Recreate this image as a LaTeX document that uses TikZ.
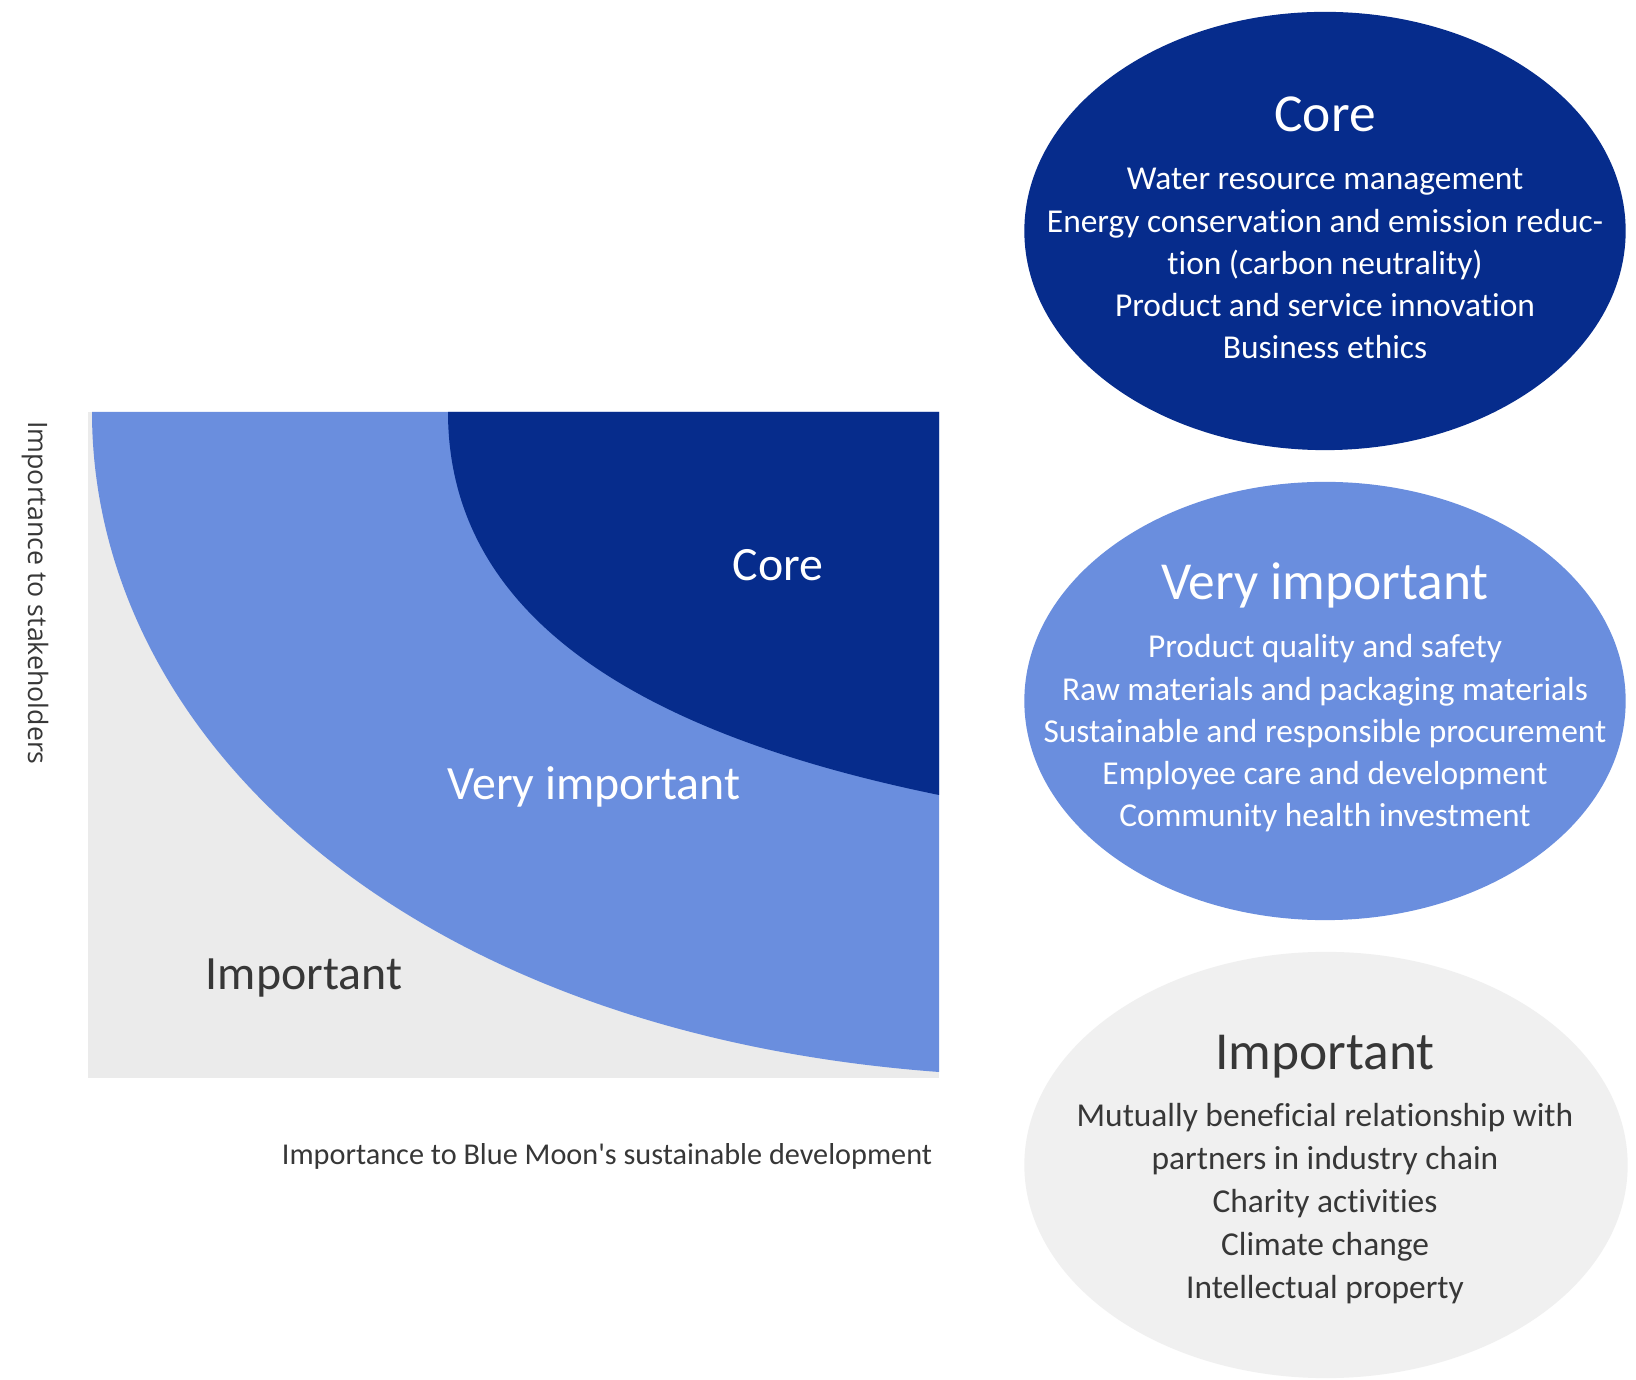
\documentclass[tikz,border=0pt]{standalone}
\usepackage{fontspec}
\setmainfont{Carlito}[Ligatures={TeX,NoCommon}]
\newfontfamily\plaincarlito{Carlito}[Ligatures=NoCommon]
\newfontfamily\vfont{Open Sans}
\usetikzlibrary{shapes.geometric}
\definecolor{coreblue}{RGB}{6,44,140}
\definecolor{midblue}{RGB}{106,142,222}
\definecolor{chartgray}{RGB}{235,235,235}
\definecolor{ovalgray}{RGB}{240,240,240}
\definecolor{txtgray}{RGB}{55,55,55}
\begin{document}
\begin{tikzpicture}[x=0.01cm,y=-0.01cm,
  oval/.style={ellipse, draw=none, inner sep=0pt, minimum width=6.01cm, minimum height=4.38cm},
  ovaltitle/.style={anchor=base, inner sep=0pt, font=\fontsize{15.2pt}{18pt}\selectfont},
  ovalitem/.style={anchor=base, inner sep=0pt, font=\fontsize{9.5pt}{12pt}\selectfont},
  chartlabel/.style={anchor=base, inner sep=0pt, font=\fontsize{13.6pt}{16pt}\selectfont},
  axislabel/.style={inner sep=0pt, text=txtgray}]
\useasboundingbox (0,0) rectangle (1636,1380);
\fill[white] (0,0) rectangle (1636,1380);

% chart
\fill[chartgray] (88,412) rectangle (939,1078);
\fill[midblue] (92,412) .. controls (92,732) and (399,1032) .. (939,1072) -- (939,412) -- cycle;
\fill[coreblue] (448,412) .. controls (448,635) and (675,741) .. (939,795) -- (939,412) -- cycle;

\node[chartlabel, text=white] (chcore) at (778,581) {Core};
\node[chartlabel, text=white] (chvery) at (594,800) {Very important};
\node[chartlabel, text=txtgray] (chimp) at (304,990) {Important};

\node[axislabel, anchor=base, font=\plaincarlito\fontsize{8.6pt}{10pt}\selectfont] (xlab) at (607,1165) {Importance to Blue Moon's sustainable development};
\node[axislabel, rotate=-90, font=\vfont\fontsize{7.6pt}{9pt}\selectfont] (ylab) at (35,593) {Importance to stakeholders};

% ovals
\node[oval, fill=coreblue] (ovcore) at (1325,231) {};
\node[oval, fill=midblue] (ovvery) at (1325,701) {};
\node[oval, fill=ovalgray, minimum height=4.26cm, minimum width=6.03cm] (ovimp) at (1326,1165) {};

\node[ovaltitle, text=white] (tcore) at (1325,132) {Core};
\foreach \t [count=\i from 0] in {Water resource management, Energy conservation and emission reduc-, tion (carbon neutrality), Product and service innovation, Business ethics}
  \node[ovalitem, text=white] (core\i) at (1325,190+42.2*\i) {\t};

\node[ovaltitle, text=white] (tvery) at (1325,600) {Very important};
\foreach \t [count=\i from 0] in {Product quality and safety, Raw materials and packaging materials, Sustainable and responsible procurement, Employee care and development, Community health investment}
  \node[ovalitem, text=white] (very\i) at (1325,658+42.2*\i) {\t};

\node[ovaltitle, text=txtgray] (timp) at (1325,1070) {Important};
\foreach \t [count=\i from 0] in {Mutually beneficial relationship with, partners in industry chain, Charity activities, Climate change, Intellectual property}
  \node[ovalitem, text=txtgray] (imp\i) at (1325,1127+42.8*\i) {\t};
\end{tikzpicture}
\end{document}
